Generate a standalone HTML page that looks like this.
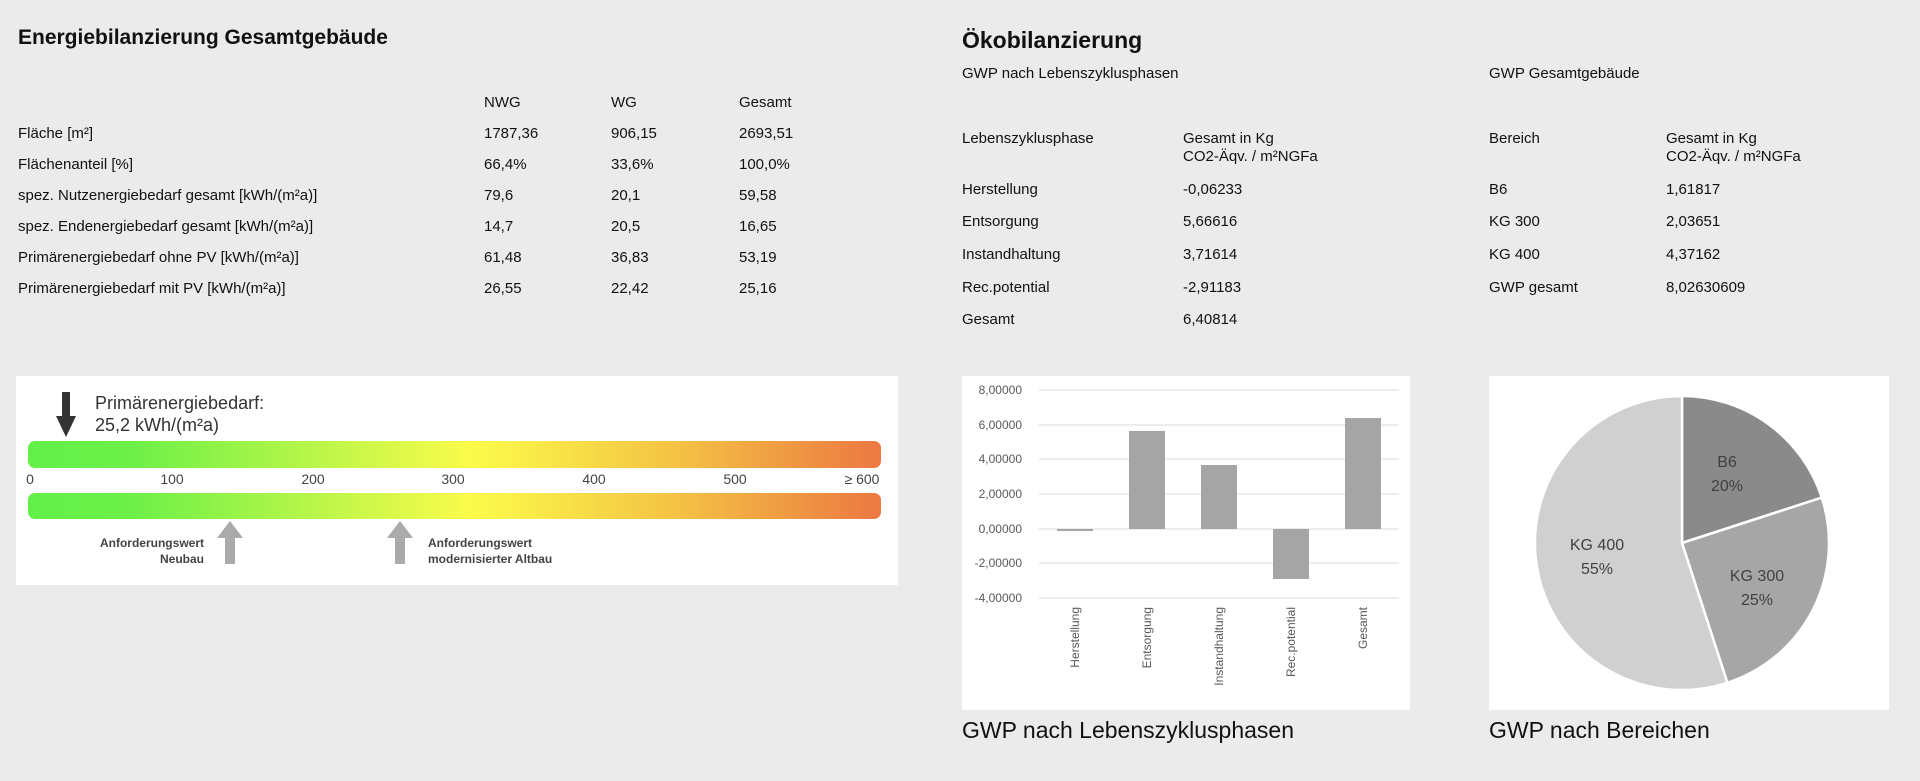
<!DOCTYPE html>
<html><head><meta charset="utf-8"><style>
body{margin:0;width:1920px;height:781px;background:#ebebeb;font-family:"Liberation Sans",sans-serif;color:#111;position:relative;overflow:hidden}
.t{position:absolute;font-size:15px;line-height:18px;white-space:nowrap;transform:translateY(-9px)}
.h{position:absolute;font-weight:bold;white-space:nowrap}
</style></head><body>
<div class="h" style="left:18px;top:26px;font-size:21px">Energiebilanzierung Gesamtgebäude</div>
<div class="t" style="left:484px;top:103px">NWG</div><div class="t" style="left:611px;top:103px">WG</div><div class="t" style="left:739px;top:103px">Gesamt</div>
<div class="t" style="left:18px;top:134px">Fläche [m²]</div><div class="t" style="left:484px;top:134px">1787,36</div><div class="t" style="left:611px;top:134px">906,15</div><div class="t" style="left:739px;top:134px">2693,51</div>
<div class="t" style="left:18px;top:165px">Flächenanteil [%]</div><div class="t" style="left:484px;top:165px">66,4%</div><div class="t" style="left:611px;top:165px">33,6%</div><div class="t" style="left:739px;top:165px">100,0%</div>
<div class="t" style="left:18px;top:196px">spez. Nutzenergiebedarf gesamt [kWh/(m²a)]</div><div class="t" style="left:484px;top:196px">79,6</div><div class="t" style="left:611px;top:196px">20,1</div><div class="t" style="left:739px;top:196px">59,58</div>
<div class="t" style="left:18px;top:227px">spez. Endenergiebedarf gesamt [kWh/(m²a)]</div><div class="t" style="left:484px;top:227px">14,7</div><div class="t" style="left:611px;top:227px">20,5</div><div class="t" style="left:739px;top:227px">16,65</div>
<div class="t" style="left:18px;top:258px">Primärenergiebedarf ohne PV [kWh/(m²a)]</div><div class="t" style="left:484px;top:258px">61,48</div><div class="t" style="left:611px;top:258px">36,83</div><div class="t" style="left:739px;top:258px">53,19</div>
<div class="t" style="left:18px;top:289px">Primärenergiebedarf mit PV [kWh/(m²a)]</div><div class="t" style="left:484px;top:289px">26,55</div><div class="t" style="left:611px;top:289px">22,42</div><div class="t" style="left:739px;top:289px">25,16</div>

<div class="h" style="left:962px;top:27px;font-size:23px">Ökobilanzierung</div>
<div class="t" style="left:962px;top:74px">GWP nach Lebenszyklusphasen</div>
<div class="t" style="left:1489px;top:74px">GWP Gesamtgebäude</div>
<div class="t" style="left:962px;top:139px">Lebenszyklusphase</div><div class="t" style="left:1183px;top:139px">Gesamt in Kg</div><div class="t" style="left:1183px;top:157px">CO2-Äqv. / m²NGFa</div>
<div class="t" style="left:1489px;top:139px">Bereich</div><div class="t" style="left:1666px;top:139px">Gesamt in Kg</div><div class="t" style="left:1666px;top:157px">CO2-Äqv. / m²NGFa</div>
<div class="t" style="left:962px;top:190px">Herstellung</div><div class="t" style="left:1183px;top:190px">-0,06233</div><div class="t" style="left:1489px;top:190px">B6</div><div class="t" style="left:1666px;top:190px">1,61817</div>
<div class="t" style="left:962px;top:222px">Entsorgung</div><div class="t" style="left:1183px;top:222px">5,66616</div><div class="t" style="left:1489px;top:222px">KG 300</div><div class="t" style="left:1666px;top:222px">2,03651</div>
<div class="t" style="left:962px;top:255px">Instandhaltung</div><div class="t" style="left:1183px;top:255px">3,71614</div><div class="t" style="left:1489px;top:255px">KG 400</div><div class="t" style="left:1666px;top:255px">4,37162</div>
<div class="t" style="left:962px;top:288px">Rec.potential</div><div class="t" style="left:1183px;top:288px">-2,91183</div><div class="t" style="left:1489px;top:288px">GWP gesamt</div><div class="t" style="left:1666px;top:288px">8,02630609</div>
<div class="t" style="left:962px;top:320px">Gesamt</div><div class="t" style="left:1183px;top:320px">6,40814</div>

<svg width="1920" height="781" style="position:absolute;left:0;top:0" font-family="Liberation Sans, sans-serif">
<defs><linearGradient id="g" x1="0" x2="1"><stop offset="0" stop-color="#62f049"/><stop offset="0.12" stop-color="#6cf048"/><stop offset="0.52" stop-color="#fbfb4a"/><stop offset="0.75" stop-color="#f4c544"/><stop offset="1" stop-color="#ec7842"/></linearGradient></defs>
<rect x="16" y="376" width="882" height="209" fill="#fff"/>
<rect x="28" y="441" width="853" height="27" rx="7" fill="url(#g)"/>
<rect x="28" y="493" width="853" height="26" rx="7" fill="url(#g)"/>
<rect x="62" y="392" width="8" height="26" fill="#333"/><polygon points="56,416 76,416 66,437" fill="#333"/>
<text x="95" y="409" font-size="18" fill="#333">Primärenergiebedarf:</text>
<text x="95" y="431" font-size="18" fill="#333">25,2 kWh/(m²a)</text>
<g font-size="14" fill="#444" text-anchor="middle"><text x="30" y="484">0</text><text x="172" y="484">100</text><text x="313" y="484">200</text><text x="453" y="484">300</text><text x="594" y="484">400</text><text x="735" y="484">500</text><text x="862" y="484">≥ 600</text></g>
<g fill="#aaa"><polygon points="230,521 217,538 243,538"/><rect x="225" y="537" width="10" height="27"/><polygon points="400,521 387,538 413,538"/><rect x="395" y="537" width="10" height="27"/></g>
<g font-size="12" font-weight="bold" fill="#444"><text x="204" y="547" text-anchor="end">Anforderungswert</text><text x="204" y="563" text-anchor="end">Neubau</text><text x="428" y="547">Anforderungswert</text><text x="428" y="563">modernisierter Altbau</text></g>

<rect x="962" y="376" width="448" height="334" fill="#fff"/>
<g stroke="#d9d9d9" stroke-width="1"><line x1="1039" x2="1399" y1="390" y2="390"/><line x1="1039" x2="1399" y1="425" y2="425"/><line x1="1039" x2="1399" y1="459" y2="459"/><line x1="1039" x2="1399" y1="494" y2="494"/><line x1="1039" x2="1399" y1="529" y2="529"/><line x1="1039" x2="1399" y1="563" y2="563"/><line x1="1039" x2="1399" y1="598" y2="598"/></g>
<g font-size="12" fill="#595959" text-anchor="end"><text x="1022" y="394">8,00000</text><text x="1022" y="429">6,00000</text><text x="1022" y="463">4,00000</text><text x="1022" y="498">2,00000</text><text x="1022" y="533">0,00000</text><text x="1022" y="567">-2,00000</text><text x="1022" y="602">-4,00000</text></g>
<g fill="#a5a5a5"><rect x="1057" y="529" width="36" height="2"/><rect x="1129" y="431" width="36" height="98"/><rect x="1201" y="465" width="36" height="64"/><rect x="1273" y="529" width="36" height="50"/><rect x="1345" y="418" width="36" height="111"/></g>
<g font-size="12" fill="#595959" text-anchor="end"><text transform="translate(1079,607) rotate(-90)">Herstellung</text><text transform="translate(1151,607) rotate(-90)">Entsorgung</text><text transform="translate(1223,607) rotate(-90)">Instandhaltung</text><text transform="translate(1295,607) rotate(-90)">Rec.potential</text><text transform="translate(1367,607) rotate(-90)">Gesamt</text></g>

<rect x="1489" y="376" width="400" height="334" fill="#fff"/>
<g stroke="#fff" stroke-width="2.5">
<path d="M1682,543 L1682,396 A147,147 0 0 1 1821.8,497.6 Z" fill="#8a8a8a"/>
<path d="M1682,543 L1821.8,497.6 A147,147 0 0 1 1727.4,682.8 Z" fill="#a6a6a6"/>
<path d="M1682,543 L1727.4,682.8 A147,147 0 1 1 1682,396 Z" fill="#d0d0d0"/>
</g>
<g font-size="16" fill="#404040" text-anchor="middle"><text x="1727" y="467">B6</text><text x="1727" y="491">20%</text><text x="1757" y="581">KG 300</text><text x="1757" y="605">25%</text><text x="1597" y="550">KG 400</text><text x="1597" y="574">55%</text></g>
<text x="962" y="738" font-size="23" fill="#111">GWP nach Lebenszyklusphasen</text>
<text x="1489" y="738" font-size="23" fill="#111">GWP nach Bereichen</text>
</svg>
</body></html>
